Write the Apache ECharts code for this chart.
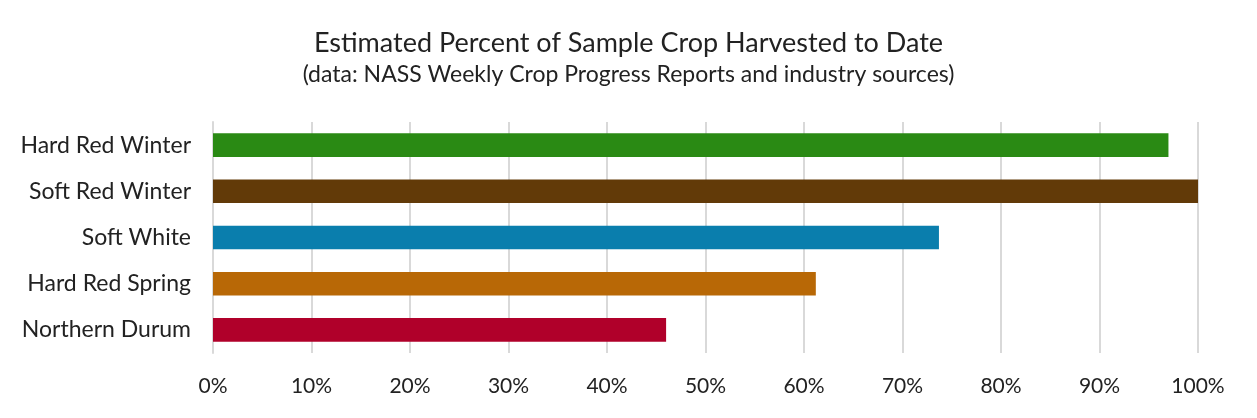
<!DOCTYPE html>
<html><head><meta charset="utf-8">
<script src="https://cdn.jsdelivr.net/npm/echarts@6/dist/echarts.min.js"></script>
<style>html,body{margin:0;padding:0;background:#fff}#c{width:1257px;height:418px}</style>
</head><body><div id="c"></div>
<script>
const categories = ["Hard Red Winter", "Soft Red Winter", "Soft White", "Hard Red Spring", "Northern Durum"];
const values = [97, 100, 73.7, 61.2, 46];
const colors = ["#2A8A14", "#623A08", "#0A7EAD", "#B86806", "#B0002A"];
const titleText = "Estimated Percent of Sample Crop Harvested to Date";
const subtitleText = "(data: NASS Weekly Crop Progress Reports and industry sources)";

const chart = echarts.init(document.getElementById('c'), null, {renderer: 'canvas'});
const font = 'Lato, "Open Sans", sans-serif';
chart.setOption({
  animation: false,
  backgroundColor: '#fff',
  title: {
    text: titleText, subtext: subtitleText, left: 'center', top: 25, itemGap: 6,
    textStyle: {fontFamily: font, fontSize: 27, fontWeight: 'normal', color: '#222'},
    subtextStyle: {fontFamily: font, fontSize: 23, color: '#222'}
  },
  grid: {left: 213, right: 59, top: 122, bottom: 65, containLabel: false},
  xAxis: {
    type: 'value', min: 0, max: 100, interval: 10,
    axisLabel: {formatter: '{value}%', fontFamily: font, fontSize: 21, color: '#222', margin: 23},
    axisLine: {show: false}, axisTick: {show: false},
    splitLine: {show: true, lineStyle: {color: '#d9d9d9', width: 2}}
  },
  yAxis: {
    type: 'category', data: categories, inverse: true,
    axisLabel: {fontFamily: font, fontSize: 23, color: '#222', margin: 22},
    axisLine: {show: true, lineStyle: {color: '#d9d9d9', width: 2}},
    axisTick: {show: false}
  },
  series: [{
    type: 'bar', data: values.map((v, i) => ({value: v, itemStyle: {color: colors[i]}})),
    barCategoryGap: '49%'
  }]
});
</script></body></html>
